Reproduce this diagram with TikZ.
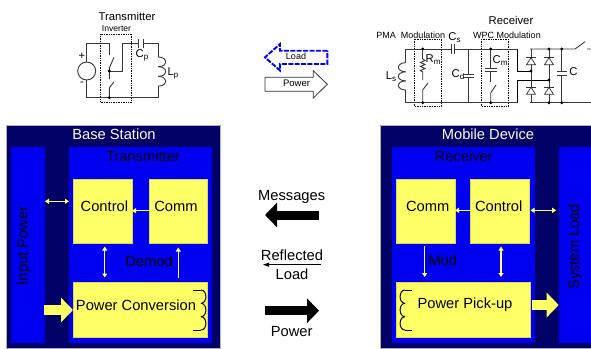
\documentclass[tikz,border=0pt]{standalone}
\usepackage{fontspec}
\setmainfont{Liberation Sans}
\usetikzlibrary{arrows.meta,calc}
\definecolor{navyb}{HTML}{000066}
\definecolor{blueb}{HTML}{0000F0}
\definecolor{yell}{HTML}{FFFF66}
\tikzset{
 blockbox/.style={inner sep=0pt,outer sep=0pt,anchor=center},
 outerb/.style={blockbox,fill=navyb,draw=gray!60,line width=.4pt},
 innerb/.style={blockbox,fill=blueb},
 yellb/.style={blockbox,fill=yell,draw=yell!85!black,line width=.3pt},
 big/.style={font=\fontsize{14.7}{16}\selectfont,inner sep=0pt},
 whitet/.style={big,text=white!90!yellow},
 small/.style={font=\fontsize{9}{10}\selectfont,inner sep=0pt},
 mid/.style={font=\fontsize{11.3}{12}\selectfont,inner sep=0pt},
 yarrow/.style={draw=yell,line width=1.1pt,{Triangle[length=4pt,width=5pt]}-{Triangle[length=4pt,width=5pt]}},
 yone/.style={draw=yell,line width=1.1pt,-{Triangle[length=4pt,width=5pt]}},
 ybig/.style={draw=yell,line width=9.4pt,-{Triangle[length=12pt,width=24pt,fill=yell]}},
 kbig/.style={draw=black,line width=9pt,-{Triangle[length=12pt,width=24pt]}},
 wire/.style={draw=black!78,line width=.9pt},
 kwire/.style={draw=black,line width=1pt},
 dashbox/.style={draw=black,line width=.7pt,densely dotted},
 jn/.style={circle,fill=black,inner sep=0pt,minimum size=3.2pt},
 coilk/.style={draw=black,line width=1pt},
}
\newcommand\blk[6]{\node[#1,minimum width={(#5-#3)*1pt},minimum height={(#6-#4)*1pt}] (#2) at ({(#3+#5)/2},{(#4+#6)/2}) {};}
\newcommand\vcoil[6]{% style,x,y0,h,ctrl offset,n
 \foreach \i in {1,...,#6}{\draw[#1] (#2,{#3+(\i-1)*#4}) .. controls ({#2+#5},{#3+(\i-1)*#4}) and ({#2+#5},{#3+\i*#4}) .. (#2,{#3+\i*#4});}}
\newcommand\diode[2]{\draw[draw=black!80,line width=.7pt,fill=white] (#1-4.5,#2+7) -- (#1+4.5,#2+7) -- (#1,#2) -- cycle; \draw[draw=black!80,line width=.8pt] (#1-5,#2) -- (#1+5,#2);}
\begin{document}
\begin{tikzpicture}[x=1pt,y=-1pt]
\useasboundingbox (0,0) rectangle (591,348);
\fill[white] (0,0) rectangle (591,348);
% ---- blocks
\blk{outerb}{base}{6}{125}{220}{348}
\blk{innerb}{inp}{11}{147}{45}{343}
\blk{innerb}{tx}{69}{147}{212}{343}
\blk{yellb}{ctlL}{73.5}{179}{132}{243}
\blk{yellb}{comL}{149}{179}{207.5}{243}
\blk{yellb}{pc}{73}{282}{207.5}{337}
\blk{outerb}{mob}{380.5}{125}{592}{348}
\blk{innerb}{rx}{391.7}{147}{535}{343}
\blk{innerb}{sys}{558.7}{147}{592}{343}
\blk{yellb}{comR}{396.3}{179}{455}{243}
\blk{yellb}{ctlR}{470.3}{179}{529}{243}
\blk{yellb}{pp}{396}{282}{530.3}{337}
% ---- block texts
\node[whitet] (tBase) at (114,134) {Base Station};
\node[big] (tTx) at (143,156.7) {Transmitter};
\node[big,rotate=90] (tInp) at (24,246) {Input Power};
\node[big] (tCtlL) at (104.4,206) {Control};
\node[big] (tComL) at (176,206) {Comm};
\node[big] (tDem) at (149,261.7) {Demod};
\node[big] (tPc) at (136,305) {Power Conversion};
\node[whitet] (tMob) at (488,134) {Mobile Device};
\node[big] (tRx) at (463.7,156.7) {Receiver};
\node[big] (tComR) at (427.7,206) {Comm};
\node[big] (tCtlR) at (498.7,206) {Control};
\node[big] (tMod) at (442.7,260) {Mod};
\node[big] (tPp) at (465,305) {Power Pick-up};
\node[big,rotate=90] (tSys) at (575,246.7) {System Load};
% ---- yellow connectors
\draw[yarrow] (inp.east |- 0,201.3) -- (tx.west |- 0,201.3);
\draw[yone] (comL.west |- 0,210.7) -- (ctlL.east |- 0,210.7);
\draw[yarrow,shorten <=3.5pt,shorten >=4.5pt] ([xshift=2pt]ctlL.south) -- ([xshift=2pt]ctlL.south |- pc.north);
\draw[yone,shorten <=4pt,shorten >=4.5pt] (comL.south |- pc.north) -- (comL.south);
\draw[ybig] (inp.east |- 0,310) ++(-1,0) -- (pc.west |- 0,310);
\draw[yarrow,shorten <=1.5pt,shorten >=2.5pt] (ctlR.east |- 0,210.3) -- (sys.west |- 0,210.3);
\draw[yone] (ctlR.west |- 0,210.3) -- (comR.east |- 0,210.3);
\draw[yone,shorten <=3pt,shorten >=5pt] ([xshift=-1pt]comR.south) -- ([xshift=-1pt]comR.south |- pp.north);
\draw[yarrow,shorten <=3.5pt,shorten >=5pt] ([xshift=1.35pt]ctlR.south) -- ([xshift=1.35pt]ctlR.south |- pp.north);
\draw[ybig] (pp.east |- 0,305) ++(1.5,0) -- (sys.west |- 0,305);
% ---- coils in blocks
\vcoil{coilk}{201}{290}{13.33}{6.5}{3}
\draw[coilk] (193,290) -- (201,290) (193,330) -- (201,330);
\vcoil{coilk}{405}{290}{13.33}{-6.5}{3}
\draw[coilk] (405,290) -- (412,290) (405,330) -- (412,330);
% ---- middle legend
\node[big] (tMsg) at (291.7,196.7) {Messages};
\coordinate (mA) at (319,215); \coordinate (mB) at (265,215);
\draw[kbig] (mA) -- (mB);
\node[big] (tRef) at (292,255) {Reflected};
\node[big] (tLoad) at (292,274) {Load};
\coordinate (rA) at (321,264.7); \coordinate (rB) at (263,264.7);
\draw[draw=black,line width=.8pt,-{Triangle[length=6pt,width=4pt]}] (rA) -- (rB);
\coordinate (pA) at (265,310.7); \coordinate (pB) at (319,310.7);
\draw[kbig] (pA) -- (pB);
\node[big] (tPow) at (291.7,331.7) {Power};
% ---- top legend arrows
\draw[draw=blue,line width=1.9pt,dash pattern=on 5pt off 1.4pt,line join=miter]
 (327.3,50.7) -- (280,50.7) -- (280,44) -- (265,57.3) -- (280,70.5) -- (280,64) -- (327.3,64) -- cycle;
\node[small] (tLd) at (296,56.5) {Load};
\draw[draw=black!80,line width=.8pt,fill=white]
 (265,77.3) -- (313.3,77.3) -- (313.3,70.7) -- (327.3,84.3) -- (313.3,98) -- (313.3,91.3) -- (265,91.3) -- cycle;
\node[mid,font=\fontsize{9.5}{10}\selectfont] (tPw) at (296.5,83.5) {Power};
% ---- transmitter circuit
\node[mid] (tT) at (127,16) {Transmitter};
\node[small,font=\fontsize{8.6}{9}\selectfont] (tI) at (116.5,29) {Inverter};
\draw[dashbox] (100.3,34.3) rectangle (131.7,102);
\draw[wire] (109.3,55) -- (109.3,43.3) -- (86.7,43.3) -- (86.7,62);
\draw[wire] (86.7,80) -- (86.7,97.7) -- (158.3,97.7) -- (158.3,86);
\draw[wire] (86.7,71) circle[radius=9];
\draw[wire] (114,57.3) -- (109.3,68) -- (109.3,79);
\draw[wire] (109.3,97.7) -- (109.3,88) -- (114,81.7);
\draw[wire] (109.3,71) -- (122.7,71) -- (122.7,43.3) -- (138.3,43.3);
\draw[wire] (138.3,38.5) -- (138.3,48) (143,38.5) -- (143,48);
\draw[wire] (143,43.3) -- (158.3,43.3) -- (158.3,57);
\vcoil{wire}{158.3}{57}{9.7}{9.7}{3}
\node[jn] (j1) at (109.3,71) {};
\node[jn] (j2) at (109.3,97.7) {};
\node[mid] (tPlus) at (82,56) {+};
\node[mid] (tMinus) at (82,84) {-};
\node[mid] (tCp) at (142,55) {C\raisebox{-2pt}{\fontsize{8}{8}\selectfont p}};
\node[mid] (tLp) at (173,73) {L\raisebox{-2pt}{\fontsize{8}{8}\selectfont p}};
% ---- receiver circuit
\node[mid] (tR) at (511,20) {Receiver};
\node[small] (tPma) at (386,35) {PMA};
\node[small] (tMdl) at (423,35) {Modulation};
\node[small] (tWpc) at (507,35) {WPC Modulation};
\draw[dashbox] (414.7,39) rectangle (441,106.7);
\draw[dashbox] (481.7,39) rectangle (508.3,106.7);
% main rails
\draw[wire] (405.7,62.7) -- (405.7,49) -- (451,49) (454.3,49) -- (517.3,49);
\draw[kwire] (517.3,49) -- (517.3,71) -- (531,71);
\draw[wire] (451,44) -- (451,54) (454.3,44) -- (454.3,54);
\draw[wire] (405.7,90) -- (405.7,102.7) -- (517.3,102.7);
\draw[kwire] (517.3,102.7) -- (517.3,80) -- (549,80);
\draw[wire] (530,102.7) -- (591,102.7);
\vcoil{wire}{405.7}{62.7}{9.1}{-9.7}{3}
% Rm branch
\draw[wire] (422.7,49) -- (422.7,59);
\draw[wire] (422.7,59) -- (425,60.5) -- (420.4,62.5) -- (425,64.5) -- (420.4,66.5) -- (425,68.5) -- (420.4,70.5) -- (422.7,72) -- (422.7,80);
\draw[wire] (422.7,102.7) -- (422.7,90) -- (428,83);
% Cd
\draw[wire] (468.7,49) -- (468.7,74) (468.7,77.3) -- (468.7,102.7);
\draw[wire] (463,74) -- (474,74) (463,77.3) -- (474,77.3);
% Cm branch
\draw[wire] (490.7,49) -- (490.7,68.3) (490.7,71.5) -- (490.7,82);
\draw[wire] (485,68.3) -- (496.5,68.3) (485,71.5) -- (496.5,71.5);
\draw[wire] (490.7,102.7) -- (490.7,93) -- (496,85);
% bridge
\draw[wire] (531,49) -- (531,102.7) (549,49) -- (549,102.7);
\draw[wire] (530,49) -- (575,49) -- (585,41.7) (587,49) -- (591,49);
\diode{531}{57.7}
\diode{549}{57.7}
\diode{531}{87.3}
\diode{549}{87.3}
% C
\draw[wire] (561.7,49) -- (561.7,71) (561.7,75.7) -- (561.7,102.7);
\draw[wire] (557,71) -- (566.5,71) (557,75.7) -- (566.5,75.7);
\foreach \n/\px/\py in {a/422.7/49,b/422.7/102.7,c/490.7/49,d/490.7/102.7,e/531/71,f/549/80,g/549/49,h/561.7/49,l/549/102.7,m/561.7/102.7}{\node[jn] (jr\n) at (\px,\py) {};}
\node[mid] (tLs) at (391,77) {L\raisebox{-2pt}{\fontsize{8}{8}\selectfont s}};
\node[mid] (tRm) at (433,60) {R\raisebox{-2pt}{\fontsize{8}{8}\selectfont m}};
\node[mid] (tCs) at (454.5,38) {C\raisebox{-2pt}{\fontsize{8}{8}\selectfont s}};
\node[mid] (tCd) at (458,75) {C\raisebox{-2pt}{\fontsize{8}{8}\selectfont d}};
\node[mid] (tCm) at (500,61) {C\raisebox{-2pt}{\fontsize{8}{8}\selectfont m}};
\node[mid] (tC) at (573.5,72) {C};
\end{tikzpicture}
\end{document}
